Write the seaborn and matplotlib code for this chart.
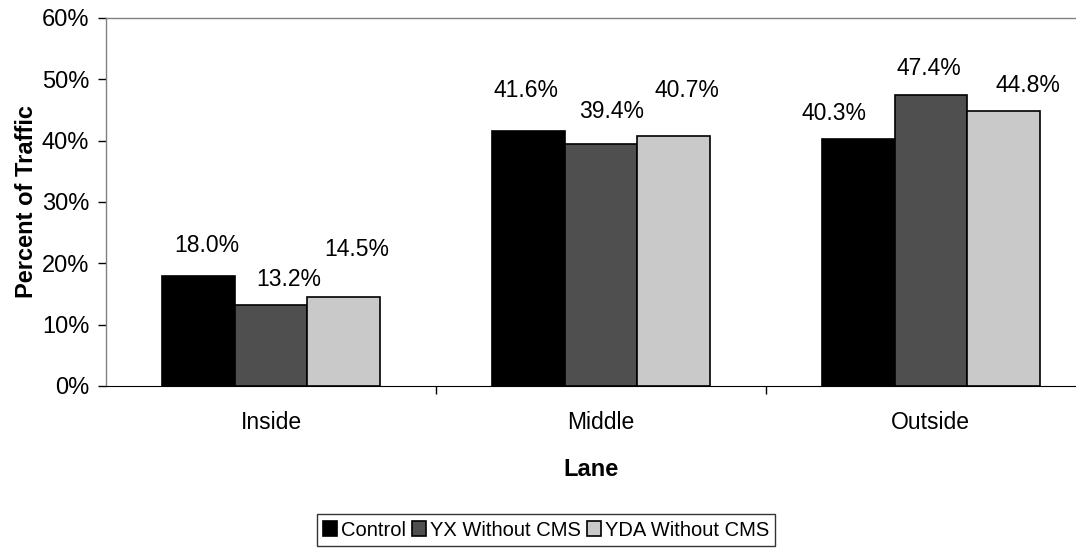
import pandas as pd
import numpy as np
import matplotlib.pyplot as plt
import seaborn as sns
from matplotlib.ticker import FuncFormatter, FixedLocator

# Data
lanes = ['Inside', 'Middle', 'Outside']
series = ['Control', 'YX Without CMS', 'YDA Without CMS']
control = [18.0, 41.6, 40.3]
yx_without_cms = [13.2, 39.4, 47.4]
yda_without_cms = [14.5, 40.7, 44.8]

# label nudges in pixels (dx, dy) relative to each bar top, per series then lane
label_dx = [[8, -2, -24], [18, 11, -2], [13, 13, 25]]
label_dy = [[30, 40, 25], [26, 33, 27], [48, 46, 26]]

df = pd.DataFrame({
    'Lane': lanes * 3,
    'Series': np.repeat(series, 3),
    'Value': control + yx_without_cms + yda_without_cms,
})

sns.set_style('white')
plt.rcParams['font.family'] = ['Liberation Sans', 'DejaVu Sans']
plt.rcParams['text.color'] = 'black'
plt.rcParams['axes.labelcolor'] = 'black'
plt.rcParams['xtick.color'] = 'black'
plt.rcParams['ytick.color'] = 'black'

colors = {'Control': '#000000', 'YX Without CMS': '#4f4f4f', 'YDA Without CMS': '#c9c9c9'}

fig = plt.figure(figsize=(10.76, 5.5), dpi=100)
ax = fig.add_axes([106 / 1076, 1 - 386 / 550, 1 - 106 / 1076, 368 / 550])

sns.barplot(data=df, x='Lane', y='Value', hue='Series', order=lanes, hue_order=series,
            palette=colors, width=0.66, gap=0, edgecolor='black', linewidth=1.2,
            saturation=1, ax=ax, legend=True)

# value labels
for i, cont in enumerate(ax.containers):
    for j, bar in enumerate(cont):
        h = bar.get_height()
        ax.annotate(f'{h:.1f}%', (bar.get_x() + bar.get_width() / 2, h),
                    xytext=(label_dx[i][j], label_dy[i][j]), textcoords='offset pixels',
                    ha='center', va='center', fontsize=16.5)

ax.set_ylim(0, 60)
ax.set_xlim(-0.5, 2.44)
ax.set_yticks(range(0, 61, 10))
ax.yaxis.set_major_formatter(FuncFormatter(lambda v, p: f'{v:.0f}%'))
ax.tick_params(axis='y', direction='out', length=6, width=1, labelsize=17, pad=6, left=True)
ax.tick_params(axis='x', which='major', length=0, labelsize=16.5, pad=18)
ax.xaxis.set_minor_locator(FixedLocator([0.5, 1.5]))
ax.tick_params(axis='x', which='minor', direction='out', length=6, width=1, bottom=True)

ax.set_ylabel('Percent of Traffic', fontsize=17, fontweight='bold', labelpad=3)
ax.set_xlabel('Lane', fontsize=17, fontweight='bold', labelpad=17)

for s in ['top', 'left']:
    ax.spines[s].set_color('#808080')
    ax.spines[s].set_linewidth(1)
ax.spines['bottom'].set_color('black')
ax.spines['right'].set_visible(False)

ax.legend_.remove()
handles, labels = ax.get_legend_handles_labels()
leg = fig.legend(handles, labels, loc='center', bbox_to_anchor=(546 / 1076, 1 - 530 / 550),
                 ncol=3, frameon=True, fancybox=False, edgecolor='black', fontsize=14.5,
                 handlelength=0.7, handleheight=0.7, handletextpad=0.2, columnspacing=0.3,
                 borderpad=0.3, borderaxespad=0)
leg.get_frame().set_linewidth(1)

fig.savefig('out.png', dpi=100)
